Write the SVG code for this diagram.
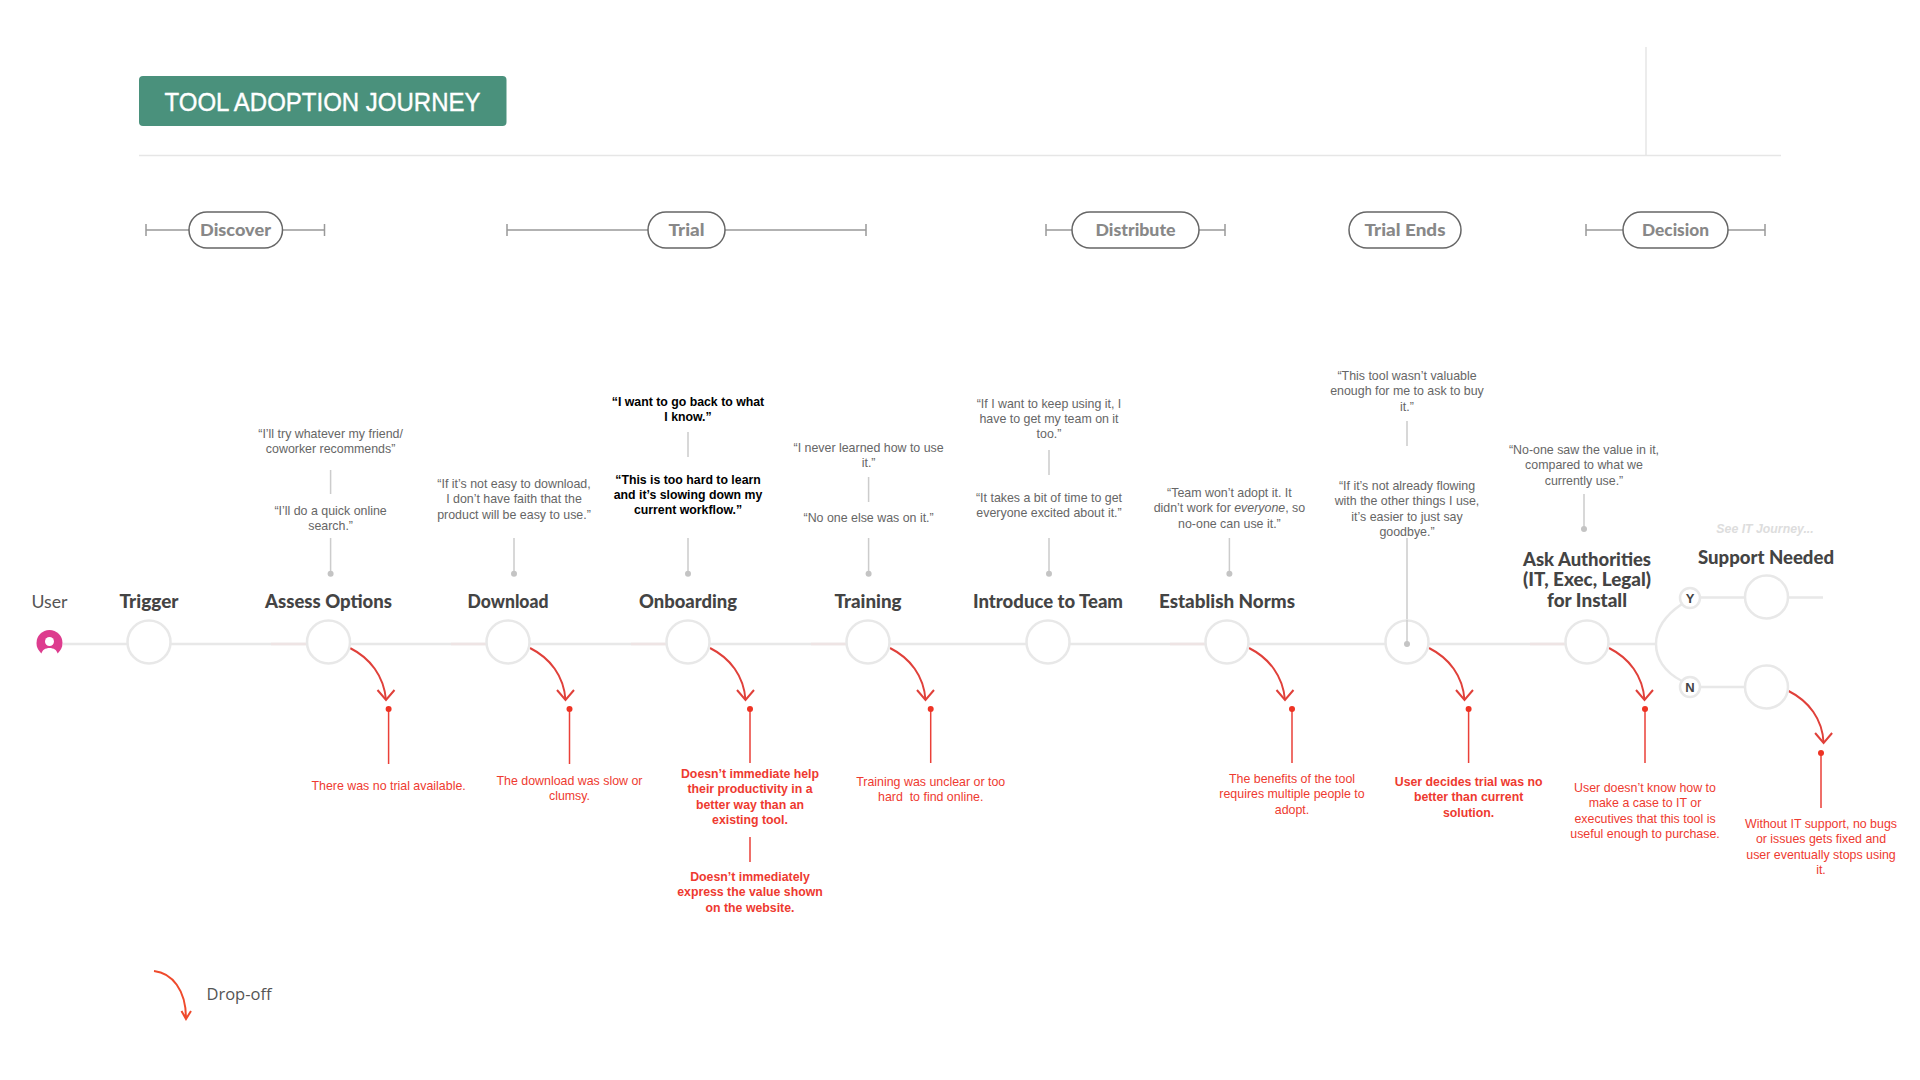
<svg xmlns="http://www.w3.org/2000/svg" width="1920" height="1080" viewBox="0 0 1920 1080">
<style>
text{font-family:"Liberation Sans",Arial,sans-serif;text-anchor:middle}
.q{font-size:12.4px;fill:#666}
.qb{font-size:12.3px;fill:#000;font-weight:700}
.r{font-size:12.4px;fill:#ee3a30}
.rb{font-size:12.3px;fill:#ee3a30;font-weight:700}
.s{font-family:Lato,"Liberation Sans",sans-serif;font-size:18px;font-weight:900;fill:#444}
.p{font-family:Lato,"Liberation Sans",sans-serif;font-size:17px;font-weight:900;fill:#888}
.pill{fill:#fff;stroke:#666;stroke-width:1.5}
.bar{stroke:#999;stroke-width:1.5;fill:none}
.n{fill:#fff;stroke:#e8e8e8;stroke-width:2.5}
.tl{stroke:#e8e8e8;stroke-width:2.5;fill:none}
.tint{stroke:#eee4e4;stroke-width:2.5;fill:none}
.g{stroke:#ccc;stroke-width:1.5;fill:none}
.gd{fill:#c4c4c4}
.rl{stroke:#ea4038;stroke-width:1.5;fill:none}
.rd{fill:#ee3324}
.ar{stroke:#e0403a;stroke-width:2;fill:none;marker-end:url(#chev)}
.yn{font-size:13px;font-weight:700;fill:#444}
</style>
<defs>
<marker id="chev" markerUnits="userSpaceOnUse" viewBox="0 0 20 20" markerWidth="20" markerHeight="20" refX="18" refY="10" orient="90">
<path d="M8,1.5 L18,10 L8,18.5" fill="none" stroke="#e0403a" stroke-width="2"/>
</marker>
</defs>
<rect width="1920" height="1080" fill="#fff"/>
<g id="header">
<rect x="139" y="76" width="367.5" height="50" rx="4" fill="#4a917c"/>
<text x="322.500" y="111" font-size="26" fill="#fff" stroke="#fff" stroke-width="0.4" textLength="316" lengthAdjust="spacingAndGlyphs">TOOL ADOPTION JOURNEY</text>
<path d="M139,155.5H1781M1646,47V155.5" stroke="#e6e6e6" stroke-width="1.5" fill="none"/>
</g>
<g id="phases">
<path class="bar" d="M146,230H324M146,224V236M324.500,224V236"/>
<rect class="pill" x="189" y="212" width="93.500" height="36" rx="18"/><text class="p" x="235.500" y="236" textLength="71" lengthAdjust="spacingAndGlyphs">Discover</text>
<path class="bar" d="M507,230H866M507,224V236M866,224V236"/>
<rect class="pill" x="648" y="212" width="77" height="36" rx="18"/><text class="p" x="686.500" y="236" textLength="36" lengthAdjust="spacingAndGlyphs">Trial</text>
<path class="bar" d="M1046,230H1225M1046,224V236M1225,224V236"/>
<rect class="pill" x="1072" y="212" width="127" height="36" rx="18"/><text class="p" x="1135.500" y="236" textLength="80" lengthAdjust="spacingAndGlyphs">Distribute</text>
<rect class="pill" x="1349" y="212" width="112" height="36" rx="18"/><text class="p" x="1405" y="236" textLength="81" lengthAdjust="spacingAndGlyphs">Trial Ends</text>
<path class="bar" d="M1586,230H1765M1586,224V236M1765,224V236"/>
<rect class="pill" x="1623" y="212" width="105" height="36" rx="18"/><text class="p" x="1675.500" y="236" textLength="67" lengthAdjust="spacingAndGlyphs">Decision</text>
</g>
<g id="connectors">
<path class="tl" d="M63,644H1656M1690,597.500H1823M1690,687H1745"/>
<path class="tl" d="M1682,604C1664,616 1656,630 1656,644C1656,658 1664,672 1682,681"/>
<path class="tint" d="M271,644H307M451,644H487M631,644H667M811,644H847M1170,644H1206M1530,644H1566"/>
<path class="g" d="M330.600,470V494M330.600,538V574M514,538V574M688,432V457M688,538V574M868.600,477V502M868.600,538V574M1049,450V475M1049,538V574M1229.400,538V574M1407,421V446M1407,538V644M1584,494V529"/>
<path class="ar" d="M350,648c20,10 34,28 36,52"/>
<path class="ar" d="M530,648c20,10 34,28 35.500,52"/>
<path class="ar" d="M710,648c20,10 34,28 35.500,52"/>
<path class="ar" d="M890,648c20,10 34,28 35.500,52"/>
<path class="ar" d="M1249,648c20,10 34,28 36,52"/>
<path class="ar" d="M1429,648c20,10 34,28 35.500,52"/>
<path class="ar" d="M1609,648c20,10 34,28 35.500,52"/>
<path class="ar" d="M1788.600,691c20,10 34,28 35,52"/>
<path class="rl" d="M388.600,709V764M569.500,709V764M750,709V763M750,837V862M930.700,709V763M1292,709V763M1468.600,709V763M1645,709V763M1821,753V808"/>
</g>
<g id="user">
<text x="49.500" y="608" font-size="17" style="font-family:Lato,sans-serif" fill="#555" textLength="36" lengthAdjust="spacingAndGlyphs">User</text>
<circle cx="49.500" cy="643" r="13" fill="#dd3c8e"/>
<circle cx="49.500" cy="641.500" r="4.500" fill="#fff"/>
<path d="M41.500,654C42,646 57,646 57.500,654V660H41.500Z" fill="#fff"/>
</g>
<g id="trigger"><text class="s" x="149" y="608" textLength="59" lengthAdjust="spacingAndGlyphs">Trigger</text><circle class="n" cx="149" cy="642" r="21.500"/></g>
<g id="assess-options"><text class="s" x="328.500" y="608" textLength="127" lengthAdjust="spacingAndGlyphs">Assess Options</text><circle class="n" cx="328.500" cy="642" r="21.500"/>
<text class="q" x="330.600" y="437.500">“I’ll try whatever my friend/<tspan x="330.600" dy="15.400">coworker recommends”</tspan></text>
<text class="q" x="330.600" y="515">“I’ll do a quick online<tspan x="330.600" dy="15.400">search.”</tspan></text>
<circle class="gd" cx="330.600" cy="573.700" r="3"/>
<circle class="rd" cx="388.600" cy="709" r="3"/><text class="r" x="388.600" y="790">There was no trial available.</text></g>
<g id="download"><text class="s" x="508" y="608" textLength="81" lengthAdjust="spacingAndGlyphs">Download</text><circle class="n" cx="508" cy="642" r="21.500"/>
<text class="q" x="514" y="488">“If it’s not easy to download,<tspan x="514" dy="15.400">I don’t have faith that the</tspan><tspan x="514" dy="15.400">product will be easy to use.”</tspan></text>
<circle class="gd" cx="514" cy="573.700" r="3"/>
<circle class="rd" cx="569.500" cy="709" r="3"/><text class="r" x="569.500" y="785">The download was slow or<tspan x="569.500" dy="15.400">clumsy.</tspan></text></g>
<g id="onboarding"><text class="s" x="688" y="608" textLength="98" lengthAdjust="spacingAndGlyphs">Onboarding</text><circle class="n" cx="688" cy="642" r="21.500"/>
<text class="qb" x="688" y="405.700">“I want to go back to what<tspan x="688" dy="15.400">I know.”</tspan></text>
<text class="qb" x="688" y="483.500">“This is too hard to learn<tspan x="688" dy="15.400">and it’s slowing down my</tspan><tspan x="688" dy="15.400">current workflow.”</tspan></text>
<circle class="gd" cx="688" cy="573.700" r="3"/>
<circle class="rd" cx="750" cy="709" r="3"/>
<text class="rb" x="750" y="778">Doesn’t immediate help<tspan x="750" dy="15.400">their productivity in a</tspan><tspan x="750" dy="15.400">better way than an</tspan><tspan x="750" dy="15.400">existing tool.</tspan></text>
<text class="rb" x="750" y="881">Doesn’t immediately<tspan x="750" dy="15.400">express the value shown</tspan><tspan x="750" dy="15.400">on the website.</tspan></text></g>
<g id="training"><text class="s" x="868" y="608" textLength="67" lengthAdjust="spacingAndGlyphs">Training</text><circle class="n" cx="868" cy="642" r="21.500"/>
<text class="q" x="868.600" y="451.700">“I never learned how to use<tspan x="868.600" dy="15.400">it.”</tspan></text>
<text class="q" x="868.600" y="522">“No one else was on it.”</text>
<circle class="gd" cx="868.600" cy="573.700" r="3"/>
<circle class="rd" cx="930.700" cy="709" r="3"/><text class="r" x="930.700" y="785.700" xml:space="preserve">Training was unclear or too<tspan x="930.700" dy="15.400">hard  to find online.</tspan></text></g>
<g id="introduce-to-team"><text class="s" x="1048" y="608" textLength="150" lengthAdjust="spacingAndGlyphs">Introduce to Team</text><circle class="n" cx="1048" cy="642" r="21.500"/>
<text class="q" x="1049" y="407.500">“If I want to keep using it, I<tspan x="1049" dy="15.400">have to get my team on it</tspan><tspan x="1049" dy="15.400">too.”</tspan></text>
<text class="q" x="1049" y="502">“It takes a bit of time to get<tspan x="1049" dy="15.400">everyone excited about it.”</tspan></text>
<circle class="gd" cx="1049" cy="573.700" r="3"/></g>
<g id="establish-norms"><text class="s" x="1227" y="608" textLength="136" lengthAdjust="spacingAndGlyphs">Establish Norms</text><circle class="n" cx="1227" cy="642" r="21.500"/>
<text class="q" x="1229.400" y="497">“Team won’t adopt it. It<tspan x="1229.400" dy="15.400">didn’t work for <tspan font-style="italic">everyone</tspan>, so</tspan><tspan x="1229.400" dy="15.400">no-one can use it.”</tspan></text>
<circle class="gd" cx="1229.400" cy="573.700" r="3"/>
<circle class="rd" cx="1292" cy="709" r="3"/><text class="r" x="1292" y="783">The benefits of the tool<tspan x="1292" dy="15.400">requires multiple people to</tspan><tspan x="1292" dy="15.400">adopt.</tspan></text></g>
<g id="trial-ends"><circle class="n" cx="1407" cy="642" r="21.500"/>
<path class="g" d="M1407,620V644"/>
<text class="q" x="1407" y="379.700">“This tool wasn’t valuable<tspan x="1407" dy="15.400">enough for me to ask to buy</tspan><tspan x="1407" dy="15.400">it.”</tspan></text>
<text class="q" x="1407" y="490">“If it’s not already flowing<tspan x="1407" dy="15.400">with the other things I use,</tspan><tspan x="1407" dy="15.400">it’s easier to just say</tspan><tspan x="1407" dy="15.400">goodbye.”</tspan></text>
<circle class="gd" cx="1407" cy="644" r="3"/>
<circle class="rd" cx="1468.600" cy="709" r="3"/><text class="rb" x="1468.600" y="785.700">User decides trial was no<tspan x="1468.600" dy="15.400">better than current</tspan><tspan x="1468.600" dy="15.400">solution.</tspan></text></g>
<g id="ask-authorities"><text class="s" x="1587" y="566" textLength="128" lengthAdjust="spacingAndGlyphs">Ask Authorities</text><text class="s" x="1587" y="586.300" textLength="128" lengthAdjust="spacingAndGlyphs">(IT, Exec, Legal)</text><text class="s" x="1587" y="606.600" textLength="80" lengthAdjust="spacingAndGlyphs">for Install</text><circle class="n" cx="1587" cy="642" r="21.500"/>
<text class="q" x="1584" y="454">“No-one saw the value in it,<tspan x="1584" dy="15.400">compared to what we</tspan><tspan x="1584" dy="15.400">currently use.”</tspan></text>
<circle class="gd" cx="1584" cy="529" r="3"/>
<circle class="rd" cx="1645" cy="709" r="3"/><text class="r" x="1645" y="791.700">User doesn’t know how to<tspan x="1645" dy="15.400">make a case to IT or</tspan><tspan x="1645" dy="15.400">executives that this tool is</tspan><tspan x="1645" dy="15.400">useful enough to purchase.</tspan></text></g>
<g id="decision-y"><circle class="n" cx="1690" cy="598" r="10"/><text class="yn" x="1690" y="603">Y</text></g>
<g id="decision-n"><circle class="n" cx="1690" cy="687" r="10"/><text class="yn" x="1690" y="692">N</text></g>
<g id="support-needed"><text x="1765" y="533" font-size="12.300" font-weight="700" font-style="italic" fill="#ddd">See IT Journey...</text>
<text class="s" x="1766" y="564" textLength="136" lengthAdjust="spacingAndGlyphs">Support Needed</text><circle class="n" cx="1766.500" cy="597" r="21.500"/></g>
<g id="support-no"><circle class="n" cx="1766.500" cy="687" r="21.500"/>
<circle class="rd" cx="1821" cy="753" r="3"/><text class="r" x="1821" y="828">Without IT support, no bugs<tspan x="1821" dy="15.400">or issues gets fixed and</tspan><tspan x="1821" dy="15.400">user eventually stops using</tspan><tspan x="1821" dy="15.400">it.</tspan></text></g>
<g id="legend">
<path d="M154,971C172,973 186,990 186,1018M181.500,1011L186,1019L191,1011" fill="none" stroke="#ef4a2c" stroke-width="2"/>
<text x="239" y="1000" font-size="16.500" fill="#555" style="font-family:'Open Sans',sans-serif">Drop-off</text>
</g>
</svg>
